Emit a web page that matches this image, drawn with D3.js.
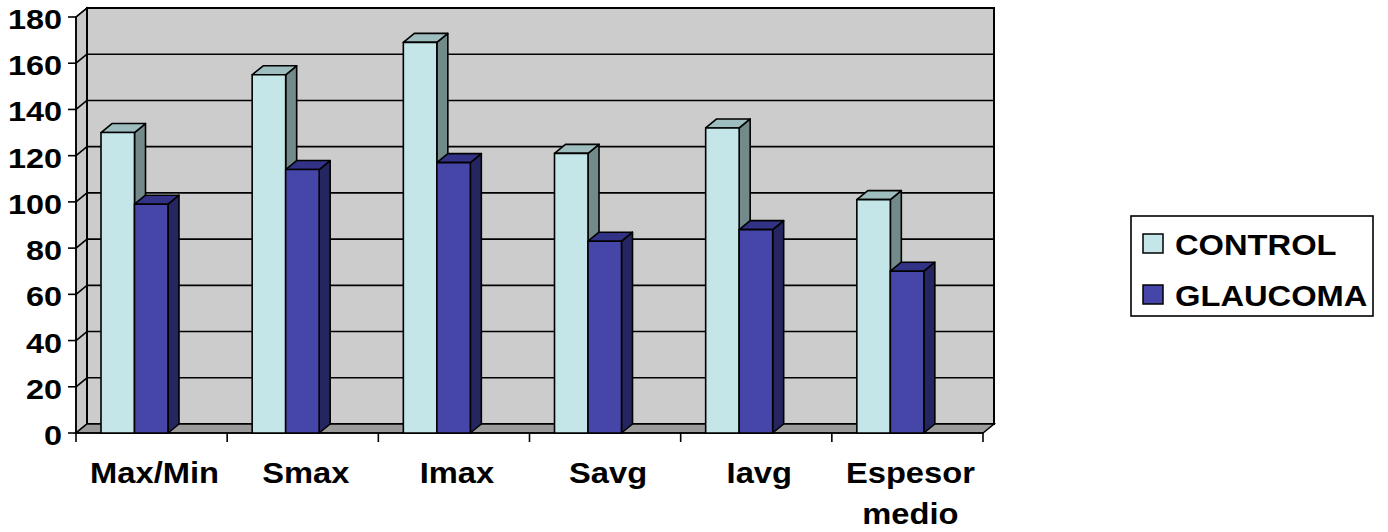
<!DOCTYPE html>
<html>
<head>
<meta charset="utf-8">
<script src="https://cdn.jsdelivr.net/npm/d3@7"></script>
<style>
  html, body { margin: 0; padding: 0; background: #ffffff; }
  svg { display: block; }
  text { font-family: "Liberation Sans", Arial, sans-serif; font-weight: bold; fill: #000; }
</style>
</head>
<body>
<svg id="chart" width="1388" height="532"></svg>
<script>
// Category labels (multi-line labels split on "\n")
const categories = ["Max/Min", "Smax", "Imax", "Savg", "Iavg", "Espesor\nmedio"];
const seriesNames = ["CONTROL", "GLAUCOMA"];
const controlValues = [130, 155, 169, 121, 132, 101];
const glaucomaValues = [99, 114, 117, 83, 88, 70];
const yTicks = [0, 20, 40, 60, 80, 100, 120, 140, 160, 180];

const seriesValues = [controlValues, glaucomaValues];

// Face colours for each series: front, top, side
const faceColors = [
  { front: "#c4e6e8", top: "#9dbdbf", side: "#728a8a" },
  { front: "#4646a8", top: "#323286", side: "#25255f" }
];

const svg = d3.select("#chart");

// 3D depth offset of the plot box
const DX = 11, DY = -9;

const x = d3.scaleBand().domain(categories).range([76, 983]).paddingInner(0).paddingOuter(0);
const y = d3.scaleLinear().domain([0, 180]).range([433, 17]);
// position of each series inside a category band
const xs = d3.scaleBand().domain(seriesNames).range([25, 92]).padding(0);

const x0 = x.range()[0], x1 = x.range()[1];
const yBase = y(0), yTop = y(180);

const poly = pts => pts.map(p => p.join(",")).join(" ");

// Left side wall
svg.append("polygon")
  .attr("points", poly([[x0, yTop], [x0 + DX, yTop + DY], [x0 + DX, yBase + DY], [x0, yBase]]))
  .attr("fill", "#c9c9c9").attr("stroke", "#000").attr("stroke-width", 1.5);

// Back wall
svg.append("rect")
  .attr("x", x0 + DX).attr("y", yTop + DY)
  .attr("width", x1 - x0).attr("height", yBase - yTop)
  .attr("fill", "#cccccc").attr("stroke", "#000").attr("stroke-width", 2);

// Gridlines on the back wall and the side wall
const grid = svg.append("g").attr("stroke", "#000").attr("stroke-width", 1.6);
yTicks.filter(t => t > 0 && t < 180).forEach(t => {
  grid.append("line")
    .attr("x1", x0 + DX).attr("x2", x1 + DX)
    .attr("y1", y(t) + DY).attr("y2", y(t) + DY);
});
yTicks.forEach(t => {
  grid.append("line")
    .attr("x1", x0).attr("x2", x0 + DX)
    .attr("y1", y(t)).attr("y2", y(t) + DY);
});

// Floor
svg.append("polygon")
  .attr("points", poly([[x0, yBase], [x0 + DX, yBase + DY], [x1 + DX, yBase + DY], [x1, yBase]]))
  .attr("fill", "#9b9b9b").attr("stroke", "#000").attr("stroke-width", 1.5);

// Value axis line, ticks and labels
const yAxis = svg.append("g");
yAxis.append("line")
  .attr("x1", x0).attr("x2", x0).attr("y1", yTop).attr("y2", yBase)
  .attr("stroke", "#000").attr("stroke-width", 1.6);
yTicks.forEach(t => {
  yAxis.append("line")
    .attr("x1", x0 - 8).attr("x2", x0).attr("y1", y(t)).attr("y2", y(t))
    .attr("stroke", "#000").attr("stroke-width", 1.6);
  yAxis.append("text")
    .attr("transform", `translate(62,${y(t) + 12}) scale(1.2,1)`)
    .attr("text-anchor", "end")
    .style("font-size", "27px")
    .text(t);
});

// Category axis line and ticks
const xAxis = svg.append("g");
xAxis.append("line")
  .attr("x1", x0).attr("x2", x1).attr("y1", yBase).attr("y2", yBase)
  .attr("stroke", "#000").attr("stroke-width", 1.6);
const boundaries = categories.map(c => x(c)).concat([x1]);
boundaries.forEach(bx => {
  xAxis.append("line")
    .attr("x1", bx).attr("x2", bx).attr("y1", yBase).attr("y2", yBase + 9)
    .attr("stroke", "#000").attr("stroke-width", 1.6);
});
categories.forEach(c => {
  const cx = x(c) + x.bandwidth() / 2 + 3;
  c.split("\n").forEach((line, i) => {
    svg.append("text")
      .attr("transform", `translate(${cx},${483 + i * 41}) scale(1.09,1)`)
      .attr("text-anchor", "middle")
      .style("font-size", "30px")
      .text(line);
  });
});

// 3D columns
const bars = svg.append("g").attr("stroke", "#000").attr("stroke-width", 1.6).attr("stroke-linejoin", "round");
categories.forEach((c, ci) => {
  seriesNames.forEach((s, si) => {
    const v = seriesValues[si][ci];
    const col = faceColors[si];
    const bx = x(c) + xs(s), bw = xs.bandwidth();
    const by = y(v);
    // side face
    bars.append("polygon")
      .attr("points", poly([[bx + bw, by], [bx + bw + DX, by + DY], [bx + bw + DX, yBase + DY], [bx + bw, yBase]]))
      .attr("fill", col.side);
    // top face
    bars.append("polygon")
      .attr("points", poly([[bx, by], [bx + DX, by + DY], [bx + bw + DX, by + DY], [bx + bw, by]]))
      .attr("fill", col.top);
    // front face
    bars.append("rect")
      .attr("x", bx).attr("y", by).attr("width", bw).attr("height", yBase - by)
      .attr("fill", col.front);
  });
});

// Legend
const legend = svg.append("g");
legend.append("rect")
  .attr("x", 1131).attr("y", 216).attr("width", 242).attr("height", 100)
  .attr("fill", "#fff").attr("stroke", "#000").attr("stroke-width", 1.6);
seriesNames.forEach((s, i) => {
  const ly = 234 + i * 51;
  legend.append("rect")
    .attr("x", 1143).attr("y", ly).attr("width", 20).attr("height", 19)
    .attr("fill", faceColors[i].front).attr("stroke", "#000").attr("stroke-width", 1.5);
  legend.append("text")
    .attr("transform", `translate(1175,${ly + 21}) scale(1.09,1)`)
    .style("font-size", "30px")
    .text(s);
});
</script>
</body>
</html>
